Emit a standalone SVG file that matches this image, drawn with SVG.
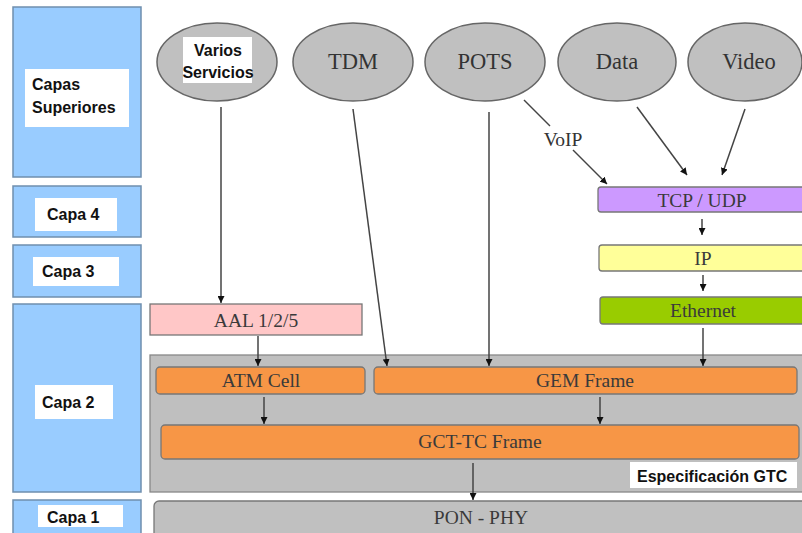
<svg xmlns="http://www.w3.org/2000/svg" width="802" height="533" viewBox="0 0 802 533">
<defs>
<marker id="ah" viewBox="0 0 10 10" refX="10" refY="5" markerWidth="7" markerHeight="7" orient="auto" markerUnits="userSpaceOnUse">
<path d="M0,0 L10,5 L0,10 z" fill="#111"/>
</marker>
<style>
.layer{fill:#99ccff;stroke:#6f8fae;stroke-width:1.5}
.lbl{fill:#fff}
.lt{font-family:"Liberation Sans",Arial,sans-serif;font-weight:bold;font-size:16px;fill:#111}
.ell{fill:#c0c0c0;stroke:#666;stroke-width:1.5}
.et{font-family:"Liberation Serif","Times New Roman",serif;font-size:22.5px;fill:#333;text-anchor:middle}
.bt{font-family:"Liberation Serif","Times New Roman",serif;font-size:19.5px;fill:#3a3a3a;text-anchor:middle}
.box{stroke:#777;stroke-width:1.3}
.conn line{stroke:#444;stroke-width:1.5;fill:none}
.conn .a{marker-end:url(#ah)}
</style>
</defs>
<rect width="802" height="533" fill="#fff"/>

<g id="capas-superiores">
<rect class="layer" x="13" y="7" width="128" height="170"/>
<rect class="lbl" x="25" y="69" width="104" height="58"/>
<text class="lt" x="32" y="90">Capas</text>
<text class="lt" x="32" y="113">Superiores</text>
</g>
<g id="capa4">
<rect class="layer" x="13" y="186" width="128" height="51"/>
<rect class="lbl" x="35" y="198" width="82" height="33"/>
<text class="lt" x="47" y="220">Capa 4</text>
</g>
<g id="capa3">
<rect class="layer" x="13" y="245" width="128" height="52"/>
<rect class="lbl" x="33" y="257" width="86" height="29"/>
<text class="lt" x="42" y="277">Capa 3</text>
</g>
<g id="capa2">
<rect class="layer" x="13" y="304" width="128" height="188"/>
<rect class="lbl" x="35" y="385" width="78" height="34"/>
<text class="lt" x="42" y="408">Capa 2</text>
</g>
<g id="capa1">
<rect class="layer" x="13" y="500" width="128" height="40"/>
<rect class="lbl" x="38" y="505" width="85" height="22"/>
<text class="lt" x="47" y="523">Capa 1</text>
</g>

<g id="varios-servicios">
<ellipse class="ell" cx="217" cy="62" rx="60" ry="39"/>
<rect class="lbl" x="183" y="37" width="69" height="46"/>
<text class="lt" x="218" y="56" text-anchor="middle" font-size="17">Varios</text>
<text class="lt" x="218" y="78" text-anchor="middle" font-size="17">Servicios</text>
</g>
<g id="tdm">
<ellipse class="ell" cx="353" cy="62" rx="60" ry="39"/>
<text class="et" x="353" y="69">TDM</text>
</g>
<g id="pots">
<ellipse class="ell" cx="485" cy="62" rx="60" ry="39"/>
<text class="et" x="485" y="69">POTS</text>
</g>
<g id="data">
<ellipse class="ell" cx="617" cy="62" rx="59" ry="39"/>
<text class="et" x="617" y="69">Data</text>
</g>
<g id="video">
<ellipse class="ell" cx="745" cy="62" rx="57" ry="39"/>
<text class="et" x="749" y="69">Video</text>
</g>

<g id="tcp-udp">
<rect class="box" x="598" y="187" width="220" height="25" rx="3" fill="#cc99ff"/>
<text class="bt" x="702" y="207">TCP / UDP</text>
</g>
<g id="ip">
<rect class="box" x="599" y="245" width="220" height="26" rx="3" fill="#ffff99"/>
<text class="bt" x="703" y="265">IP</text>
</g>
<g id="ethernet">
<rect class="box" x="600" y="297" width="220" height="27" rx="3" fill="#99cc00"/>
<text class="bt" x="703" y="317" fill="#2a2a2a">Ethernet</text>
</g>
<g id="aal">
<rect class="box" x="150" y="304" width="212" height="31" fill="#ffc7c7"/>
<text class="bt" x="256" y="327">AAL 1/2/5</text>
</g>

<g id="especificacion-gtc">
<rect x="150" y="355" width="660" height="137" fill="#bfbfbf" stroke="#888" stroke-width="1.3"/>
<rect class="lbl" x="630" y="462" width="167" height="26"/>
<text class="lt" x="637" y="482" font-size="16.5">Especificación GTC</text>
</g>
<g id="atm-cell">
<rect class="box" x="156" y="367" width="209" height="27" rx="4" fill="#f79646"/>
<text class="bt" x="261" y="387">ATM Cell</text>
</g>
<g id="gem-frame">
<rect class="box" x="374" y="367" width="423" height="27" rx="4" fill="#f79646"/>
<text class="bt" x="585" y="387">GEM Frame</text>
</g>
<g id="gct-tc-frame">
<rect class="box" x="161" y="425" width="638" height="34" rx="4" fill="#f79646"/>
<text class="bt" x="480" y="448">GCT-TC Frame</text>
</g>
<g id="pon-phy">
<rect x="154" y="501" width="680" height="50" rx="5" fill="#c0c0c0" stroke="#777" stroke-width="1.3"/>
<text class="bt" x="481" y="524">PON - PHY</text>
</g>

<g id="connectors" class="conn">
<line class="a" x1="221" y1="107" x2="221" y2="303"/>
<line class="a" x1="353" y1="109" x2="387" y2="366"/>
<line class="a" x1="489" y1="112" x2="489" y2="366"/>
<line x1="524" y1="100" x2="550" y2="126"/>
<line class="a" x1="573" y1="150" x2="607" y2="184"/>
<line class="a" x1="637" y1="107" x2="687" y2="175"/>
<line class="a" x1="745" y1="109" x2="722" y2="175"/>
<line class="a" x1="702" y1="219" x2="702" y2="235"/>
<line class="a" x1="703" y1="275" x2="703" y2="291"/>
<line class="a" x1="703" y1="328" x2="703" y2="366"/>
<line class="a" x1="258" y1="336" x2="258" y2="366"/>
<line class="a" x1="264" y1="397" x2="264" y2="424"/>
<line class="a" x1="600" y1="397" x2="600" y2="424"/>
<line class="a" x1="473" y1="463" x2="473" y2="500"/>
<text x="563" y="146" font-family="'Liberation Serif','Times New Roman',serif" font-size="19.5" fill="#333" text-anchor="middle">VoIP</text>
</g>
</svg>
